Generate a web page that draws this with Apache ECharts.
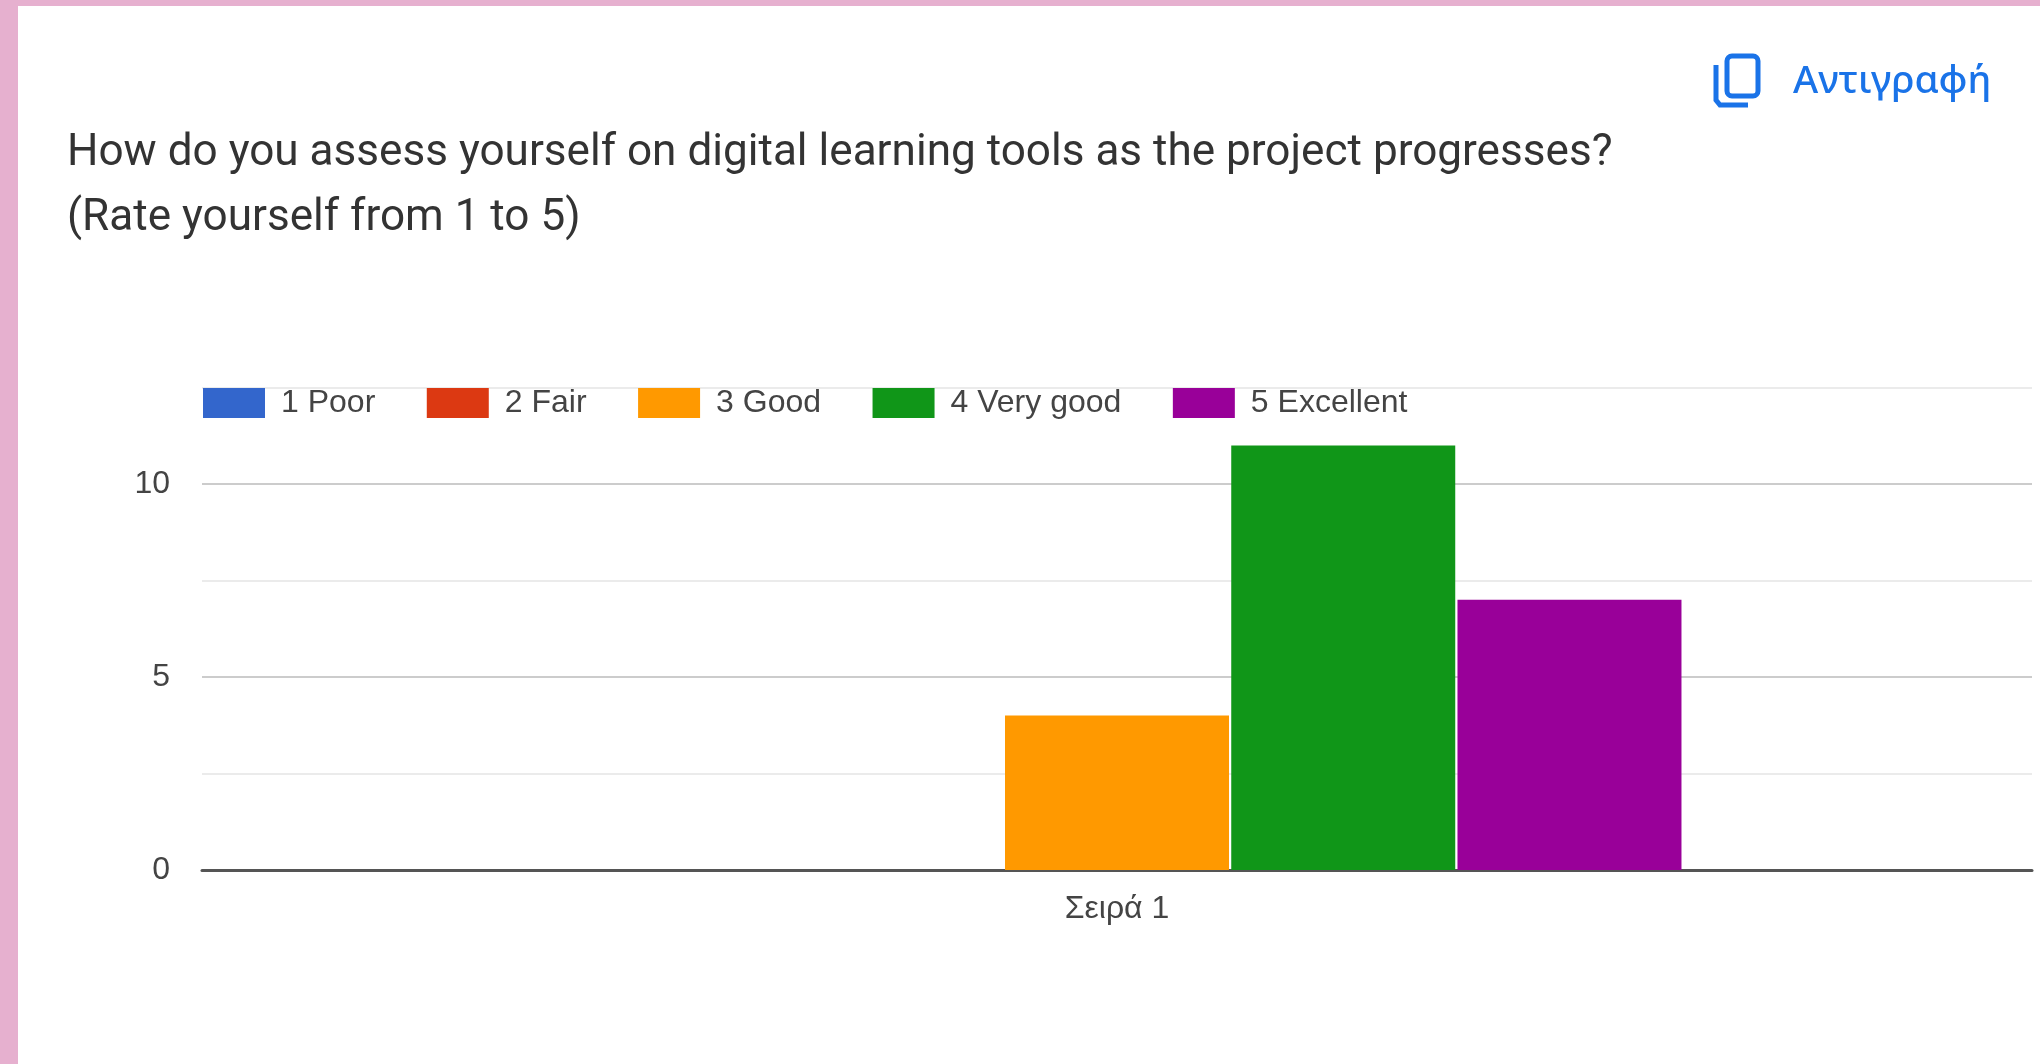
<!DOCTYPE html>
<html>
<head>
<meta charset="utf-8">
<style>html,body{margin:0;padding:0;background:#fff}#chart{width:2040px;height:1064px}</style>
<script src="https://cdn.jsdelivr.net/npm/echarts@6/dist/echarts.min.js"></script>
</head>
<body>
<div id="chart"></div>
<script>
const categories = ['Σειρά 1'];
const seriesNames = ['1 Poor', '2 Fair', '3 Good', '4 Very good', '5 Excellent'];
const poor = [0];
const fair = [0];
const good = [4];
const veryGood = [11];
const excellent = [7];
const seriesColors = ['#3366cc', '#dc3912', '#ff9900', '#109618', '#990099'];
const titleLines = ['How do you assess yourself on digital learning tools as the project progresses?', '(Rate yourself from 1 to 5)'];
const copyLabel = 'Αντιγραφή';

const chart = echarts.init(document.getElementById('chart'), null, {renderer: 'canvas'});
const values = [poor, fair, good, veryGood, excellent];
chart.setOption({
  animation: false,
  backgroundColor: '#fff',
  textStyle: {fontFamily: '"Liberation Sans", Arial, sans-serif'},
  grid: {left: 202, right: 8, top: 387.5, height: 482.5, containLabel: false},
  legend: {
    left: 203, top: 387, itemWidth: 62, itemHeight: 30, itemGap: 51.5, padding: 0,
    icon: 'rect', selectedMode: false,
    data: seriesNames,
    textStyle: {fontSize: 32, color: '#444', padding: [5, 0, 0, 11], fontFamily: '"Liberation Sans", Arial, sans-serif'}
  },
  xAxis: {
    type: 'category', data: categories,
    axisLine: {show: true, lineStyle: {color: '#555', width: 3}},
    axisTick: {show: false},
    axisLabel: {fontSize: 32, color: '#444', margin: 23}
  },
  yAxis: {
    type: 'value', min: 0, max: 12.5, interval: 2.5,
    axisLine: {show: false}, axisTick: {show: false},
    axisLabel: {fontSize: 32, color: '#444', margin: 32, padding: [6, 0, 0, 0], formatter: v => (v % 5 === 0 ? String(v) : '')},
    splitLine: {show: true, lineStyle: {width: 2, color: ['#cccccc', '#ebebeb']}}
  },
  series: seriesNames.map((name, i) => ({
    name, type: 'bar', data: values[i], barWidth: 224, barGap: '1%',
    itemStyle: {color: seriesColors[i]}
  })),
  graphic: [
    {type: 'rect', z: 100, shape: {x: 0, y: 0, width: 18, height: 1064}, style: {fill: '#e6b0cf'}},
    {type: 'rect', z: 100, shape: {x: 0, y: 0, width: 2040, height: 6}, style: {fill: '#e6b0cf'}},
    {type: 'text', z: 100, x: 67, y: 154, style: {text: titleLines[0], fill: '#333', font: '44.1px Roboto', textVerticalAlign: 'middle'}},
    {type: 'text', z: 100, x: 67, y: 219, style: {text: titleLines[1], fill: '#333', font: '44.1px Roboto', textVerticalAlign: 'middle'}},
    {type: 'text', z: 100, x: 1793, y: 82, style: {text: copyLabel, fill: '#1a73e8', font: '500 38.5px "Noto Sans"', textVerticalAlign: 'middle'}},
    {type: 'rect', z: 100, shape: {x: 1727, y: 56, width: 31, height: 40, r: 5}, style: {fill: 'none', stroke: '#1a73e8', lineWidth: 5}},
    {type: 'polyline', z: 100, shape: {points: [[1716, 65], [1716, 100], [1720, 105], [1748, 105]]}, style: {fill: 'none', stroke: '#1a73e8', lineWidth: 5}}
  ]
});
</script>
</body>
</html>
